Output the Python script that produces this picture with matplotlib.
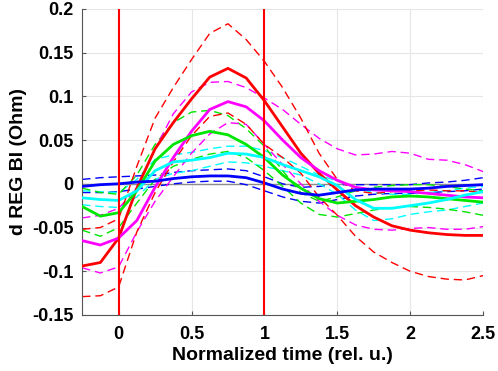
import matplotlib
matplotlib.use('Agg')
import matplotlib.pyplot as plt
import numpy as np

# normalized time axis (rel. u.)
t = np.arange(-0.25, 2.5001, 0.125)

# mean curves and +/- bands
red_mean = [-0.094, -0.090, -0.062, -0.005, 0.040, 0.070, 0.097, 0.122, 0.132, 0.121, 0.095,
            0.065, 0.035, 0.012, -0.007, -0.025, -0.038, -0.048, -0.053, -0.056, -0.058, -0.059, -0.059]
red_up = [-0.052, -0.050, -0.040, 0.020, 0.075, 0.110, 0.142, 0.172, 0.183, 0.165, 0.140,
          0.110, 0.075, 0.035, 0.005, -0.008, -0.011, -0.009, -0.008, -0.007, -0.008, -0.008, -0.010]
red_lo = [-0.129, -0.128, -0.118, -0.055, -0.010, 0.025, 0.055, 0.077, 0.081, 0.068, 0.045,
          0.030, 0.012, -0.015, -0.036, -0.060, -0.078, -0.090, -0.100, -0.106, -0.109, -0.110, -0.105]

mag_mean = [-0.065, -0.070, -0.062, -0.042, -0.004, 0.030, 0.060, 0.085, 0.094, 0.088, 0.072,
            0.050, 0.030, 0.015, 0.004, -0.004, -0.007, -0.008, -0.009, -0.011, -0.013, -0.015, -0.016]
mag_up = [-0.039, -0.036, -0.028, -0.005, 0.040, 0.080, 0.105, 0.116, 0.117, 0.110, 0.098,
          0.085, 0.068, 0.052, 0.040, 0.033, 0.034, 0.037, 0.035, 0.028, 0.027, 0.022, 0.014]
mag_lo = [-0.096, -0.102, -0.095, -0.055, -0.020, 0.008, 0.035, 0.057, 0.070, 0.068, 0.045,
          0.022, 0.000, -0.020, -0.036, -0.047, -0.052, -0.053, -0.051, -0.050, -0.052, -0.052, -0.049]

grn_mean = [-0.026, -0.037, -0.033, -0.008, 0.026, 0.045, 0.055, 0.060, 0.056, 0.045, 0.030,
            0.010, -0.005, -0.017, -0.022, -0.020, -0.018, -0.015, -0.014, -0.015, -0.017, -0.019, -0.021]
grn_up = [-0.005, -0.010, -0.012, 0.010, 0.045, 0.070, 0.082, 0.084, 0.078, 0.063, 0.043,
          0.015, -0.010, -0.020, -0.015, -0.008, -0.004, -0.002, -0.001, -0.001, -0.003, -0.006, -0.008]
grn_lo = [-0.053, -0.060, -0.050, -0.022, 0.005, 0.020, 0.028, 0.034, 0.037, 0.030, 0.015,
          -0.003, -0.022, -0.035, -0.038, -0.034, -0.030, -0.027, -0.026, -0.027, -0.029, -0.032, -0.036]

cyn_mean = [-0.016, -0.018, -0.019, -0.008, 0.015, 0.025, 0.027, 0.030, 0.035, 0.034, 0.030,
            0.022, 0.015, 0.008, -0.002, -0.018, -0.028, -0.028, -0.025, -0.022, -0.018, -0.013, -0.009]
cyn_up = [-0.008, -0.009, -0.010, 0.005, 0.028, 0.033, 0.036, 0.040, 0.043, 0.043, 0.038,
          0.030, 0.020, 0.010, 0.003, -0.005, -0.010, -0.012, -0.012, -0.010, -0.008, -0.005, -0.003]
cyn_lo = [-0.024, -0.026, -0.027, -0.015, 0.005, 0.012, 0.015, 0.020, 0.025, 0.024, 0.020,
          0.015, 0.010, 0.000, -0.012, -0.030, -0.042, -0.040, -0.035, -0.032, -0.030, -0.026, -0.022]

blu_mean = [-0.003, -0.001, 0.000, 0.002, 0.003, 0.006, 0.008, 0.009, 0.009, 0.007, 0.001,
            -0.006, -0.011, -0.013, -0.010, -0.007, -0.006, -0.006, -0.006, -0.005, -0.003, -0.002, -0.001]
blu_up = [0.005, 0.007, 0.008, 0.009, 0.010, 0.013, 0.015, 0.016, 0.017, 0.015, 0.008,
          0.000, -0.004, -0.003, -0.001, -0.001, -0.001, -0.001, -0.001, 0.001, 0.002, 0.004, 0.007]
blu_lo = [-0.010, -0.010, -0.009, -0.006, -0.003, 0.000, 0.002, 0.003, 0.003, -0.001, -0.008,
          -0.015, -0.020, -0.022, -0.018, -0.014, -0.012, -0.011, -0.011, -0.010, -0.009, -0.008, -0.006]

xticks = [0, 0.5, 1, 1.5, 2, 2.5]
xticklabels = ['0', '0.5', '1', '1.5', '2', '2.5']
yticks = [-0.15, -0.1, -0.05, 0, 0.05, 0.1, 0.15, 0.2]
yticklabels = ['-0.15', '-0.1', '-0.05', '0', '0.05', '0.1', '0.15', '0.2']

plt.rcParams['font.family'] = ['Liberation Sans', 'DejaVu Sans']

fig = plt.figure(figsize=(4.98, 3.71), dpi=100)
ax = fig.add_axes([0.165, 0.151, 0.805, 0.825])

ax.axhline(0, color='#8c8c8c', linewidth=1.0, zorder=1)

groups = [
    (blu_mean, blu_up, blu_lo, '#0000ff'),
    (cyn_mean, cyn_up, cyn_lo, '#00ffff'),
    (grn_mean, grn_up, grn_lo, '#00e600'),
    (mag_mean, mag_up, mag_lo, '#ff00ff'),
    (red_mean, red_up, red_lo, '#ff0000'),
]
for m, up, lo, c in groups:
    ax.plot(t, up, color=c, linewidth=1.0, dashes=(6, 3.5), zorder=2,
            dash_joinstyle='round')
    ax.plot(t, lo, color=c, linewidth=1.0, dashes=(6, 3.5), zorder=2,
            dash_joinstyle='round')
for m, up, lo, c in groups[::-1]:
    ax.plot(t, m, color=c, linewidth=2.0, zorder=3, solid_joinstyle='round')

# stimulus onset / end markers
ax.axvline(0, color='#ff0000', linewidth=1.5, zorder=4)
ax.axvline(1, color='#ff0000', linewidth=1.5, zorder=4)

ax.set_xlim(-0.25, 2.5)
ax.set_ylim(-0.15, 0.2)
ax.set_xticks(xticks)
ax.set_xticklabels(xticklabels, fontsize=13, fontweight='bold')
ax.set_yticks(yticks)
ax.set_yticklabels(yticklabels, fontsize=13, fontweight='bold')
ax.tick_params(direction='in', length=3, color='#555555', width=0.8)
ax.tick_params(axis='x', pad=8)
ax.tick_params(axis='y', pad=6)

ax.grid(True, color='#e6e6e6', linewidth=0.8)
ax.set_axisbelow(True)
for s in ['top', 'right']:
    ax.spines[s].set_visible(False)
for s in ['left', 'bottom']:
    ax.spines[s].set_color('#555555')
    ax.spines[s].set_linewidth(0.8)

ax.set_xlabel('Normalized time (rel. u.)', fontsize=14, fontweight='bold', labelpad=3)
ax.set_ylabel('d REG BI (Ohm)', fontsize=14, fontweight='bold', labelpad=4)

fig.savefig('out.png', dpi=100)
